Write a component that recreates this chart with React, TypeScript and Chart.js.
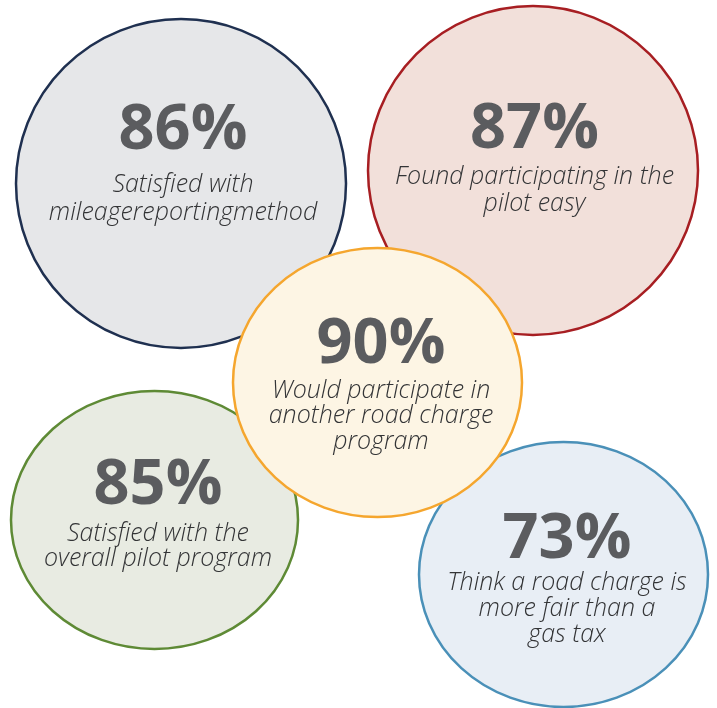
import React, { useEffect, useRef } from "react";
import { Chart, registerables } from "chart.js";

Chart.register(...registerables);

// ---- data ----
const categories = [
  "Satisfied with mileage reporting method",
  "Found participating in the pilot easy",
  "Satisfied with the overall pilot program",
  "Think a road charge is more fair than a gas tax",
  "Would participate in another road charge program",
];
const percentValues = [86, 87, 85, 73, 90];
const descriptionLines = [
  ["Satisfied with", "mileagereportingmethod"],
  ["Found participating in the", "pilot easy"],
  ["Satisfied with the", "overall pilot program"],
  ["Think a road charge is", "more fair than a", "gas tax"],
  ["Would participate in", "another road charge", "program"],
];
// bubble centres and radii (in the chart's own value space)
const centerX = [181, 533, 154.5, 563.5, 377.5];
const centerY = [183.5, 170.5, 520, 574.5, 382.5];
const radiusX = [165, 165, 143.5, 144.5, 144.5];
const radiusY = [164.5, 164.5, 129, 132.5, 134.5];

// ---- styles / layout ----
const fillColors = ["#e6e7e9", "#f2e0da", "#e8ebe2", "#e8eef5", "#fdf5e4"];
const borderColors = ["#1f3050", "#a71e22", "#5e8a35", "#4a90b8", "#f5a62e"];
const textDx = [2, 1.5, 3.5, 3.5, 3.5];
const pctDy = [-34.5, -22.5, -16, -16.5, -19.5];
const line1Dy = [8.5, 13, 20.5, 15.5, 15];
const lineGap = [28, 27, 25, 26, 25.5];

const pctFont = "700 63px 'Open Sans', sans-serif";
const descFont = "italic 300 25px 'Open Sans', sans-serif";
const pctColor = "#5b5c5f";
const descColor = "#333436";

const bubblePlugin = {
  id: "ellipseBubbles",
  beforeDatasetsDraw(chart: any) {
    const ctx = chart.ctx;
    const xs = chart.scales.x;
    const ys = chart.scales.y;
    const pts: { x: number; y: number; rx: number; ry: number }[] = [];
    chart.data.datasets.forEach((ds: any, i: number) => {
      const el = chart.getDatasetMeta(i).data[0];
      const rx = Math.abs(xs.getPixelForValue(centerX[i] + radiusX[i]) - el.x);
      const ry = Math.abs(ys.getPixelForValue(centerY[i] + radiusY[i]) - el.y);
      pts.push({ x: el.x, y: el.y, rx, ry });
      ctx.save();
      ctx.beginPath();
      ctx.ellipse(el.x, el.y, rx, ry, 0, 0, Math.PI * 2);
      ctx.fillStyle = fillColors[i];
      ctx.fill();
      ctx.lineWidth = 2.5;
      ctx.strokeStyle = borderColors[i];
      ctx.stroke();
      ctx.restore();
    });
    pts.forEach((p, i) => {
      ctx.save();
      ctx.textAlign = "center";
      ctx.textBaseline = "alphabetic";
      ctx.fillStyle = pctColor;
      ctx.font = pctFont;
      ctx.fillText(percentValues[i] + "%", p.x + textDx[i], p.y + pctDy[i]);
      ctx.fillStyle = descColor;
      ctx.font = descFont;
      descriptionLines[i].forEach((line, j) => {
        ctx.fillText(line, p.x + textDx[i], p.y + line1Dy[i] + j * lineGap[i]);
      });
      ctx.restore();
    });
  },
};

export default function App() {
  const canvasRef = useRef<HTMLCanvasElement | null>(null);
  useEffect(() => {
    if (!canvasRef.current) return;
    const chart = new Chart(canvasRef.current, {
      type: "scatter",
      data: {
        datasets: categories.map((c, i) => ({
          label: c,
          data: [{ x: centerX[i], y: centerY[i] }],
          pointRadius: 0,
          pointHoverRadius: 0,
        })),
      },
      options: {
        animation: false,
        responsive: true,
        maintainAspectRatio: false,
        layout: { padding: 0 },
        plugins: { legend: { display: false }, tooltip: { enabled: false } },
        events: [],
        scales: {
          x: { type: "linear", min: 0, max: 717, display: false },
          y: { type: "linear", min: 0, max: 708, reverse: true, display: false },
        },
      },
      plugins: [bubblePlugin],
    });
    return () => chart.destroy();
  }, []);
  return (
    <div style={{ position: "fixed", left: 0, top: 0, width: 717, height: 708, background: "#ffffff" }}>
      <canvas ref={canvasRef} />
    </div>
  );
}
